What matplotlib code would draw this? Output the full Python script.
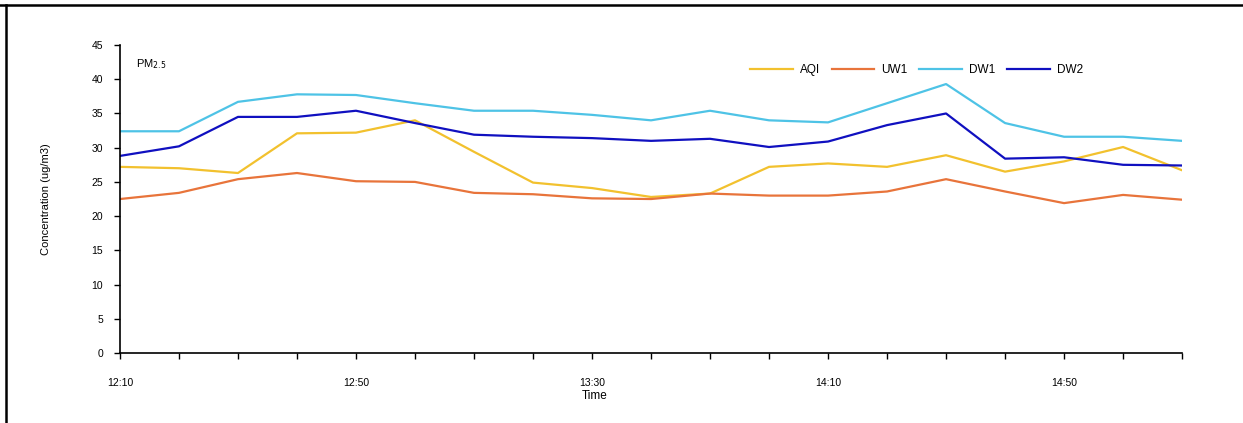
import matplotlib.pyplot as plt
from matplotlib.lines import Line2D

plt.rcParams["font.family"] = ["Liberation Sans", "DejaVu Sans"]

times = ["12:10", "12:20", "12:30", "12:40", "12:50", "13:00", "13:10",
         "13:20", "13:30", "13:40", "13:50", "14:00", "14:10", "14:20",
         "14:30", "14:40", "14:50", "15:00", "15:10"]
aqi = [27.2, 27.0, 26.3, 32.1, 32.2, 34.0, 29.4, 24.9, 24.1, 22.8,
       23.3, 27.2, 27.7, 27.2, 28.9, 26.5, 28.0, 30.1, 26.7]
uw1 = [22.5, 23.4, 25.4, 26.3, 25.1, 25.0, 23.4, 23.2, 22.6, 22.5,
       23.3, 23.0, 23.0, 23.6, 25.4, 23.6, 21.9, 23.1, 22.4]
dw1 = [32.4, 32.4, 36.7, 37.8, 37.7, 36.5, 35.4, 35.4, 34.8, 34.0,
       35.4, 34.0, 33.7, 36.5, 39.3, 33.6, 31.6, 31.6, 31.0]
dw2 = [28.8, 30.2, 34.5, 34.5, 35.4, 33.6, 31.9, 31.6, 31.4, 31.0,
       31.3, 30.1, 30.9, 33.3, 35.0, 28.4, 28.6, 27.5, 27.4]
yticks = [0, 5, 10, 15, 20, 25, 30, 35, 40, 45]

fig = plt.figure(figsize=(12.43, 4.23), dpi=100)
ax = fig.add_axes([0.0965, 0.1655, 0.8545, 0.728])

x = range(len(times))
ax.plot(x, aqi, color="#F2C12E", lw=1.6, label="AQI")
ax.plot(x, uw1, color="#E8743B", lw=1.6, label="UW1")
ax.plot(x, dw1, color="#4EC3E6", lw=1.6, label="DW1")
ax.plot(x, dw2, color="#1010C0", lw=1.6, label="DW2")

ax.set_xlim(0, len(times) - 1)
ax.set_ylim(0, 45)
ax.set_xticks(list(x))
ax.set_xticklabels([t if i % 4 == 0 else "" for i, t in enumerate(times)])
ax.set_yticks(yticks)
ax.tick_params(direction="out", labelsize=7.5, length=4, width=1)
ax.tick_params(axis="y", pad=8)
ax.tick_params(axis="x", pad=14)
ax.spines["top"].set_visible(False)
ax.spines["right"].set_visible(False)
ax.spines["left"].set_linewidth(1.2)
ax.spines["bottom"].set_linewidth(1.2)

ax.set_ylabel("Concentration (ug/m3)", fontsize=8)
ax.set_xlabel("Time", fontsize=8.5)
ax.xaxis.set_label_coords(0.447, -0.12)
ax.yaxis.set_label_coords(-0.065, 0.5)

ax.text(0.015, 0.96, "PM$_{2.5}$", transform=ax.transAxes, fontsize=8,
        va="top", ha="left")
ax.legend(ncol=4, frameon=False, fontsize=8.5, loc="center",
          bbox_to_anchor=(0.75, 0.92), handlelength=3.6, columnspacing=1.0,
          handletextpad=0.6)

# frame lines of the original slide
fig.add_artist(Line2D([0, 1], [0.988, 0.988], color="black", lw=1.8,
                      transform=fig.transFigure))
fig.add_artist(Line2D([0.005, 0.005], [0, 0.988], color="black", lw=1.8,
                      transform=fig.transFigure))

fig.savefig("out.png", dpi=100)
